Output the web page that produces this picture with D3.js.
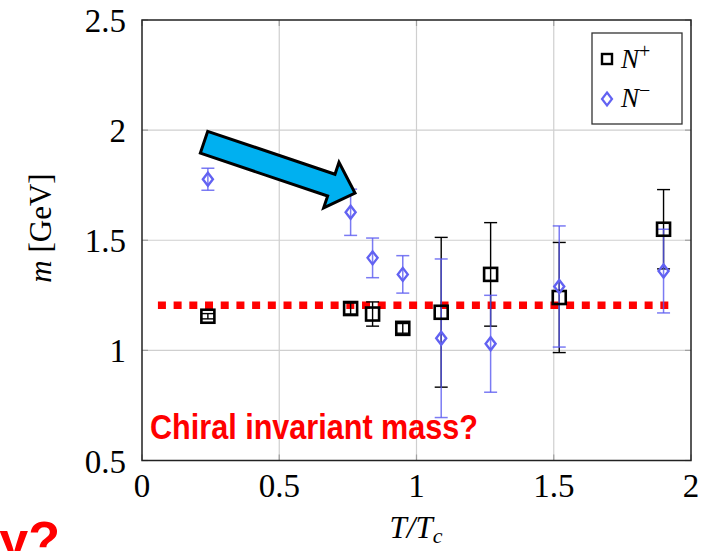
<!DOCTYPE html>
<html>
<head>
<meta charset="utf-8">
<script src="https://cdn.jsdelivr.net/npm/d3@7/dist/d3.min.js"></script>
<style>
  body { margin: 0; background: #fff; }
  svg { display: block; }
</style>
</head>
<body>
<svg id="chart" width="722" height="551"></svg>
<script>
// T/Tc positions
const temps = [0.24, 0.76, 0.84, 0.95, 1.09, 1.27, 1.52, 1.90]
// N+ masses and errors
const plusMass = [1.155, 1.19, 1.165, 1.10, 1.173, 1.345, 1.24, 1.55]
const plusErr  = [0.012, 0.025, 0.055, 0.022, 0.34, 0.235, 0.25, 0.18]
// N- masses and errors
const minusMass = [1.777, 1.627, 1.42, 1.345, 1.055, 1.03, 1.29, 1.36]
const minusErr  = [0.05, 0.105, 0.09, 0.085, 0.36, 0.22, 0.275, 0.19]

const xTicks = [0, 0.5, 1, 1.5, 2]
const yTicks = [0.5, 1, 1.5, 2, 2.5]

// chiral invariant mass guess (red dotted line)
const chiralMass = 1.205
const chiralRange = [0.058, 1.935]
// arrow annotation, tail -> tip in data units
const arrowFrom = [0.226, 1.945]
const arrowTo   = [0.776, 1.714]

const box = { left: 142, right: 691, top: 20, bottom: 460.5 }
const svg = d3.select("#chart")

const x = d3.scaleLinear().domain([0, 2]).range([box.left, box.right])
const y = d3.scaleLinear().domain([0.5, 2.5]).range([box.bottom, box.top])

const serif = "'Liberation Serif', 'DejaVu Serif', serif"

// grid
svg.append("g")
  .selectAll("line")
  .data(xTicks.slice(1, -1))
  .enter().append("line")
  .attr("x1", d => x(d)).attr("x2", d => x(d))
  .attr("y1", box.top).attr("y2", box.bottom)
  .attr("stroke", "#cfcfcf").attr("stroke-width", 1.2)

svg.append("g")
  .selectAll("line")
  .data(yTicks.slice(1, -1))
  .enter().append("line")
  .attr("y1", d => y(d)).attr("y2", d => y(d))
  .attr("x1", box.left).attr("x2", box.right)
  .attr("stroke", "#cfcfcf").attr("stroke-width", 1.2)

// inner ticks on every side
const tick = 6
const tk = svg.append("g").attr("stroke", "#a0a0a0").attr("stroke-width", 1.2)
yTicks.forEach(v => {
  tk.append("line").attr("x1", box.left).attr("x2", box.left + tick).attr("y1", y(v)).attr("y2", y(v))
  tk.append("line").attr("x1", box.right).attr("x2", box.right - tick).attr("y1", y(v)).attr("y2", y(v))
})
xTicks.forEach(v => {
  tk.append("line").attr("y1", box.bottom).attr("y2", box.bottom - tick).attr("x1", x(v)).attr("x2", x(v))
  tk.append("line").attr("y1", box.top).attr("y2", box.top + tick).attr("x1", x(v)).attr("x2", x(v))
})

// frame
svg.append("rect")
  .attr("x", box.left).attr("y", box.top)
  .attr("width", box.right - box.left).attr("height", box.bottom - box.top)
  .attr("fill", "none").attr("stroke", "#222").attr("stroke-width", 1.5)

// tick labels
svg.append("g")
  .selectAll("text")
  .data(yTicks)
  .enter().append("text")
  .attr("x", box.left - 16)
  .attr("y", d => y(d) + 12)
  .attr("text-anchor", "end")
  .style("font-family", serif).style("font-size", "33px")
  .text(d => d)

svg.append("g")
  .selectAll("text")
  .data(xTicks)
  .enter().append("text")
  .attr("x", d => x(d))
  .attr("y", 497)
  .attr("text-anchor", "middle")
  .style("font-family", serif).style("font-size", "33px")
  .text(d => d)

// axis titles
const yt = svg.append("text")
  .attr("transform", "translate(51,228) rotate(-90)")
  .attr("text-anchor", "middle")
  .style("font-family", serif).style("font-size", "31px")
yt.append("tspan").style("font-style", "italic").text("m")
yt.append("tspan").text(" [GeV]")

const xt = svg.append("text")
  .attr("x", 416).attr("y", 538)
  .attr("text-anchor", "middle")
  .style("font-family", serif).style("font-size", "31px").style("font-style", "italic")
xt.append("tspan").text("T/T")
xt.append("tspan").attr("dy", 5).style("font-size", "22px").text("c")

// red dotted line
svg.append("line")
  .attr("x1", x(chiralRange[0])).attr("x2", x(chiralRange[1]))
  .attr("y1", y(chiralMass)).attr("y2", y(chiralMass))
  .attr("stroke", "#ff0000").attr("stroke-width", 7.5)
  .attr("stroke-dasharray", "8 7.7")

// error bars
function errorBars(vals, errs, color, width, opacity) {
  const g = svg.append("g")
    .attr("stroke", color).attr("stroke-width", width).attr("stroke-opacity", opacity)
  temps.forEach((t, i) => {
    const cx = x(t), lo = y(vals[i] - errs[i]), hi = y(vals[i] + errs[i])
    g.append("line").attr("x1", cx).attr("x2", cx).attr("y1", lo).attr("y2", hi)
    g.append("line").attr("x1", cx - 6.5).attr("x2", cx + 6.5).attr("y1", lo).attr("y2", lo)
    g.append("line").attr("x1", cx - 6.5).attr("x2", cx + 6.5).attr("y1", hi).attr("y2", hi)
  })
}
errorBars(plusMass, plusErr, "#000", 1.4, 1)
errorBars(minusMass, minusErr, "#5a5af0", 1.5, 0.8)

// markers
const blue = "#6262f2"
const diamond = "M0,-6.5L5,0L0,6.5L-5,0Z"

svg.append("g")
  .selectAll("rect")
  .data(temps)
  .enter().append("rect")
  .attr("x", (d, i) => x(d) - 6.5)
  .attr("y", (d, i) => y(plusMass[i]) - 6.5)
  .attr("width", 13).attr("height", 13)
  .attr("fill", "none").attr("stroke", "#000").attr("stroke-width", 2.6)

svg.append("g")
  .selectAll("path")
  .data(temps)
  .enter().append("path")
  .attr("transform", (d, i) => `translate(${x(d)},${y(minusMass[i])})`)
  .attr("d", diamond)
  .attr("fill", "none").attr("stroke", blue).attr("stroke-width", 2.4)

// arrow
const ax0 = x(arrowFrom[0]), ay0 = y(arrowFrom[1])
const ax1 = x(arrowTo[0]), ay1 = y(arrowTo[1])
const len = Math.hypot(ax1 - ax0, ay1 - ay0)
const ang = Math.atan2(ay1 - ay0, ax1 - ax0) * 180 / Math.PI
const shaft = 11.5, head = 24, headLen = 25
const arrowPts = [
  [0, -shaft], [len - headLen, -shaft], [len - headLen, -head], [len, 0],
  [len - headLen, head], [len - headLen, shaft], [0, shaft]
]
svg.append("path")
  .attr("transform", `translate(${ax0},${ay0}) rotate(${ang})`)
  .attr("d", d3.line()(arrowPts) + "Z")
  .attr("fill", "#00b0f0").attr("stroke", "#000").attr("stroke-width", 3)
  .attr("stroke-linejoin", "miter")

// legend
const lg = svg.append("g")
lg.append("rect")
  .attr("x", 592).attr("y", 33).attr("width", 90).attr("height", 91)
  .attr("fill", "#fff").attr("stroke", "#333").attr("stroke-width", 1.3)
lg.append("rect")
  .attr("x", 602).attr("y", 54).attr("width", 10).attr("height", 10)
  .attr("fill", "none").attr("stroke", "#000").attr("stroke-width", 2.4)
lg.append("path")
  .attr("transform", "translate(607,99)")
  .attr("d", diamond)
  .attr("fill", "none").attr("stroke", blue).attr("stroke-width", 2.2)
const lp = lg.append("text").attr("x", 621).attr("y", 68)
  .style("font-family", serif).style("font-size", "27px")
lp.append("tspan").style("font-style", "italic").text("N")
lp.append("tspan").attr("dy", -10).style("font-size", "20px").text("+")
const lm = lg.append("text").attr("x", 621).attr("y", 107)
  .style("font-family", serif).style("font-size", "27px")
lm.append("tspan").style("font-style", "italic").text("N")
lm.append("tspan").attr("dy", -10).style("font-size", "20px").text("\u2212")

// red annotations
svg.append("text")
  .attr("x", 150).attr("y", 439)
  .attr("textLength", 328).attr("lengthAdjust", "spacingAndGlyphs")
  .style("font-family", "'Liberation Sans Narrow', 'Liberation Sans', sans-serif")
  .style("font-weight", "bold").style("font-size", "35px")
  .attr("fill", "#ff0000")
  .text("Chiral invariant mass?")

svg.append("text")
  .attr("x", 60).attr("y", 558)
  .attr("text-anchor", "end")
  .style("font-family", "'Liberation Sans', sans-serif")
  .style("font-weight", "bold").style("font-size", "52px")
  .attr("fill", "#ff0000")
  .text("y?")
</script>
</body>
</html>
